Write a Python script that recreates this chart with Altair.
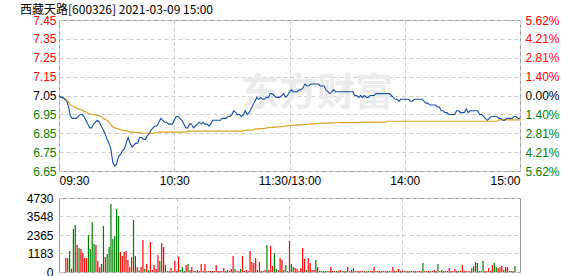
import json
import altair as alt
import pandas as pd

# ---------------- data ----------------
title_text = "西藏天路[600326] 2021-03-09 15:00"
watermark_text = ["东方财富"]
pre_close = 7.05
price_top = 7.446
price_bottom = 6.654
price_step = 0.099
price_tick_values = [7.446, 7.347, 7.248, 7.149, 7.05, 6.951, 6.852, 6.753, 6.654]
pct_tick_labels = ["5.62%", "4.21%", "2.81%", "1.40%", "0.00%", "1.40%", "2.81%", "4.21%", "5.62%"]
time_tick_values = [0, 60, 120, 180, 240]
time_tick_labels = ["09:30", "10:30", "11:30/13:00", "14:00", "15:00"]
time_grid_values = [60, 120, 180]
vol_tick_values = [0, 1183, 2365, 3548, 4730]

price = [
    7.05, 7.04, 7.04, 7.03, 7.02, 6.99, 6.94, 6.93, 6.93, 6.93,
    6.94, 6.95, 6.95, 6.94, 6.92, 6.90, 6.88, 6.88, 6.90, 6.91,
    6.92, 6.91, 6.89, 6.87, 6.85, 6.82, 6.80, 6.77, 6.70, 6.68,
    6.69, 6.73, 6.74, 6.76, 6.77, 6.80, 6.83, 6.80, 6.78, 6.79,
    6.80, 6.80, 6.83, 6.83, 6.82, 6.82, 6.84, 6.85, 6.87, 6.88,
    6.89, 6.89, 6.91, 6.93, 6.92, 6.91, 6.91, 6.90, 6.90, 6.90,
    6.92, 6.94, 6.94, 6.93, 6.92, 6.90, 6.88, 6.88, 6.90, 6.90,
    6.88, 6.89, 6.90, 6.91, 6.90, 6.91, 6.90, 6.90, 6.89, 6.90,
    6.92, 6.92, 6.92, 6.92, 6.92, 6.93, 6.93, 6.93, 6.94, 6.94,
    6.95, 6.97, 6.96, 6.95, 6.95, 6.94, 6.95, 6.97, 6.95, 6.96,
    6.98, 7.00, 7.02, 7.04, 7.03, 7.04, 7.03, 7.03, 7.04, 7.04,
    7.06, 7.06, 7.05, 7.04, 7.04, 7.04, 7.05, 7.06, 7.04, 7.05,
    7.07, 7.08, 7.07, 7.07, 7.07, 7.08, 7.08, 7.09, 7.11, 7.10,
    7.10, 7.11, 7.11, 7.11, 7.11, 7.11, 7.10, 7.10, 7.10, 7.08,
    7.07, 7.06, 7.07, 7.08, 7.07, 7.07, 7.07, 7.07, 7.07, 7.07,
    7.07, 7.07, 7.07, 7.07, 7.05, 7.05, 7.04, 7.05, 7.04, 7.05,
    7.04, 7.04, 7.05, 7.05, 7.05, 7.06, 7.06, 7.06, 7.06, 7.06,
    7.06, 7.06, 7.06, 7.05, 7.04, 7.03, 7.03, 7.02, 7.03, 7.03,
    7.03, 7.03, 7.03, 7.02, 7.02, 7.03, 7.03, 7.03, 7.03, 7.03,
    7.02, 7.01, 7.01, 7.00, 7.00, 7.00, 7.00, 6.99, 6.99, 6.97,
    6.97, 6.96, 6.96, 6.95, 6.95, 6.95, 6.95, 6.97, 6.97, 6.96,
    6.96, 6.96, 6.98, 6.96, 6.97, 6.97, 6.97, 6.97, 6.97, 6.95,
    6.95, 6.94, 6.93, 6.92, 6.93, 6.94, 6.94, 6.94, 6.94, 6.93,
    6.93, 6.92, 6.92, 6.93, 6.93, 6.93, 6.93, 6.94, 6.94, 6.93,
    6.93,
]

avg = [
    7.050, 7.045, 7.036, 7.033, 7.030, 7.012, 7.000, 6.995, 6.991, 6.984,
    6.981, 6.977, 6.974, 6.968, 6.963, 6.958, 6.954, 6.951, 6.949, 6.947,
    6.947, 6.944, 6.940, 6.931, 6.924, 6.921, 6.910, 6.899, 6.885, 6.880,
    6.877, 6.875, 6.871, 6.868, 6.866, 6.864, 6.862, 6.858, 6.858, 6.858,
    6.857, 6.856, 6.855, 6.853, 6.852, 6.852, 6.852, 6.852, 6.852, 6.852,
    6.854, 6.856, 6.858, 6.858, 6.858, 6.858, 6.858, 6.858, 6.858, 6.858,
    6.858, 6.858, 6.858, 6.858, 6.858, 6.858, 6.858, 6.863, 6.863, 6.863,
    6.863, 6.863, 6.863, 6.863, 6.863, 6.863, 6.863, 6.863, 6.863, 6.863,
    6.863, 6.863, 6.863, 6.863, 6.863, 6.863, 6.863, 6.863, 6.863, 6.863,
    6.863, 6.863, 6.863, 6.863, 6.863, 6.863, 6.866, 6.867, 6.867, 6.868,
    6.869, 6.870, 6.874, 6.875, 6.875, 6.876, 6.877, 6.878, 6.880, 6.881,
    6.882, 6.883, 6.884, 6.884, 6.885, 6.886, 6.887, 6.888, 6.890, 6.891,
    6.892, 6.893, 6.894, 6.894, 6.895, 6.896, 6.896, 6.897, 6.898, 6.899,
    6.900, 6.901, 6.901, 6.902, 6.902, 6.903, 6.904, 6.904, 6.905, 6.905,
    6.905, 6.906, 6.906, 6.906, 6.907, 6.907, 6.908, 6.908, 6.908, 6.908,
    6.908, 6.908, 6.908, 6.908, 6.908, 6.908, 6.908, 6.910, 6.910, 6.910,
    6.910, 6.910, 6.910, 6.910, 6.910, 6.910, 6.910, 6.910, 6.910, 6.910,
    6.910, 6.915, 6.915, 6.915, 6.915, 6.915, 6.915, 6.915, 6.915, 6.915,
    6.915, 6.915, 6.915, 6.915, 6.915, 6.915, 6.915, 6.915, 6.915, 6.915,
    6.915, 6.915, 6.915, 6.915, 6.915, 6.915, 6.915, 6.915, 6.915, 6.915,
    6.915, 6.915, 6.915, 6.915, 6.915, 6.915, 6.915, 6.915, 6.915, 6.915,
    6.915, 6.915, 6.915, 6.915, 6.915, 6.915, 6.915, 6.915, 6.915, 6.915,
    6.915, 6.915, 6.915, 6.915, 6.915, 6.915, 6.915, 6.915, 6.915, 6.922,
    6.922, 6.922, 6.922, 6.922, 6.922, 6.922, 6.922, 6.922, 6.922, 6.922,
    6.922,
]

# volume bars for minutes 1..240
volume = [
    895, 895, 1342, 213, 2748, 3003, 1725, 1534, 1470, 1214,
    895, 895, 2364, 1470, 3195, 1789, 1725, 703, 320, 511,
    2939, 958, 1150, 1597, 4345, 2108, 2300, 4026, 3578, 1278,
    1022, 1278, 1342, 767, 320, 958, 3323, 1022, 320, 100,
    320, 2045, 192, 511, 128, 1917, 128, 447, 192, 1086,
    703, 1853, 1597, 447, 64, 64, 256, 64, 703, 64,
    958, 128, 320, 64, 447, 511, 128, 320, 64, 64,
    128, 64, 511, 64, 511, 64, 64, 64, 64, 64,
    447, 64, 64, 64, 256, 64, 128, 64, 192, 1022,
    192, 64, 64, 192, 1022, 64, 128, 64, 1342, 639,
    575, 895, 128, 639, 64, 64, 128, 1725, 128, 1661,
    383, 1214, 192, 128, 895, 767, 128, 447, 64, 1981,
    511, 320, 256, 192, 64, 256, 1534, 831, 128, 895,
    575, 128, 128, 767, 320, 64, 64, 64, 64, 64,
    64, 320, 64, 64, 64, 64, 128, 64, 64, 64,
    320, 64, 128, 256, 64, 64, 64, 64, 64, 64,
    64, 64, 64, 64, 320, 64, 64, 64, 64, 64,
    64, 64, 64, 64, 320, 64, 64, 192, 64, 64,
    64, 64, 64, 64, 64, 64, 64, 64, 64, 64,
    575, 64, 64, 64, 64, 64, 128, 64, 511, 64,
    128, 64, 64, 64, 256, 64, 64, 192, 64, 64,
    64, 447, 64, 64, 64, 64, 256, 383, 639, 575,
    64, 64, 703, 64, 64, 256, 64, 447, 575, 320,
    256, 320, 383, 128, 320, 320, 64, 64, 64, 383,
]
vol_dir = [
    "r", "g", "g", "r", "g", "g", "r", "g", "r", "r",
    "r", "r", "g", "g", "g", "g", "r", "r", "r", "g",
    "g", "r", "g", "g", "g", "g", "g", "g", "g", "r",
    "r", "r", "r", "r", "r", "r", "g", "g", "r", "g",
    "r", "r", "g", "r", "g", "r", "r", "r", "r", "r",
    "g", "r", "r", "g", "g", "r", "r", "g", "r", "r",
    "r", "g", "g", "g", "r", "g", "r", "r", "r", "g",
    "r", "r", "r", "r", "r", "g", "r", "r", "r", "r",
    "r", "r", "r", "r", "r", "r", "g", "r", "r", "r",
    "g", "r", "r", "g", "r", "r", "r", "r", "r", "r",
    "r", "r", "g", "r", "r", "r", "r", "g", "r", "r",
    "r", "g", "g", "r", "r", "r", "g", "g", "r", "r",
    "g", "g", "r", "r", "r", "r", "r", "r", "g", "r",
    "r", "r", "r", "g", "r", "r", "g", "g", "g", "g",
    "r", "r", "r", "r", "g", "r", "r", "g", "r", "g",
    "r", "r", "g", "g", "r", "r", "r", "r", "r", "r",
    "g", "g", "r", "r", "r", "r", "r", "r", "r", "g",
    "r", "r", "g", "r", "r", "r", "r", "r", "r", "r",
    "g", "r", "r", "g", "r", "r", "g", "r", "r", "r",
    "g", "r", "r", "r", "g", "r", "r", "r", "g", "r",
    "g", "r", "r", "r", "r", "r", "r", "r", "r", "g",
    "r", "r", "r", "r", "r", "r", "g", "r", "g", "g",
    "g", "g", "g", "r", "r", "r", "r", "r", "g", "g",
    "r", "r", "r", "g", "r", "r", "r", "r", "r", "g",
]

# ---------------- styling ----------------
RED = "#ff0000"
GREEN = "#008000"
BLACK = "#000000"
BLUE = "#0f4fa8"
ORANGE = "#e0a020"
GRID = "#cccccc"
LABEL_FONT = "Liberation Sans"

price_df = pd.DataFrame({"minute": list(range(len(price))), "price": price, "avg": avg})
vol_df = pd.DataFrame({"minute": list(range(1, len(volume) + 1)), "volume": volume, "dir": vol_dir})
wm_df = pd.DataFrame({"t": watermark_text})

time_expr = "{}[indexof({}, datum.value)]".format(json.dumps(time_tick_labels), json.dumps(time_tick_values))
pct_expr = "{}[round(({} - datum.value) / {})]".format(json.dumps(pct_tick_labels), price_top, price_step)

side_color = {
    "condition": [
        {"test": "datum.value > {}".format(pre_close + 0.01), "value": RED},
        {"test": "datum.value < {}".format(pre_close - 0.01), "value": GREEN},
    ],
    "value": BLACK,
}

x_scale = alt.Scale(domain=[0, 240], nice=False, zero=False)
y_price_scale = alt.Scale(domain=[price_bottom, price_top], nice=False, zero=False)

x_price = alt.X(
    "minute:Q", scale=x_scale,
    axis=alt.Axis(values=time_tick_values, labelExpr=time_expr, labelFlush=True,
                  grid=True, gridDash=[4, 3], gridColor=GRID, ticks=False, domain=False,
                  title=None, labelPadding=4, minExtent=14, maxExtent=14,
                  labelFont=LABEL_FONT, labelFontSize=12, labelColor=BLACK),
)

# faint background watermark
watermark = alt.Chart(wm_df).mark_text(
    font="Noto Sans CJK SC", fontSize=38, fontWeight="bold", color="#ebebeb",
    align="center", baseline="middle",
).encode(text="t:N", x=alt.value(258), y=alt.value(74))

avg_line = alt.Chart(price_df).mark_line(color=ORANGE, strokeWidth=1.2).encode(
    x=x_price,
    y=alt.Y("avg:Q", scale=y_price_scale,
            axis=alt.Axis(orient="right", values=price_tick_values, labelExpr=pct_expr,
                          grid=False, ticks=False, domain=False, title=None,
                          labelPadding=5, minExtent=45, maxExtent=45,
                          labelFont=LABEL_FONT, labelFontSize=12, labelColor=side_color)),
)

price_line = alt.Chart(price_df).mark_line(color=BLUE, strokeWidth=1.1).encode(
    x=x_price,
    y=alt.Y("price:Q", scale=y_price_scale,
            axis=alt.Axis(orient="left", values=price_tick_values, format=".2f",
                          grid=True, gridDash=[4, 3], gridColor=GRID, ticks=False, domain=False,
                          title=None, labelPadding=3, minExtent=40, maxExtent=40,
                          labelFont=LABEL_FONT, labelFontSize=12, labelColor=side_color)),
)

price_chart = alt.layer(watermark, avg_line, price_line).resolve_scale(y="independent").properties(
    width=461, height=151,
    title=alt.TitleParams(text=title_text, anchor="start", font="Noto Sans CJK SC",
                          fontSize=12, fontWeight="normal", color=BLACK, offset=-3, dx=1),
)

vol_chart = alt.Chart(vol_df).mark_bar(width=1.2).encode(
    x=alt.X("minute:Q", scale=x_scale,
            axis=alt.Axis(values=time_grid_values, labels=False, ticks=False, domain=False,
                          grid=True, gridDash=[4, 3], gridColor=GRID, title=None,
                          minExtent=0, maxExtent=0)),
    y=alt.Y("volume:Q", scale=alt.Scale(domain=[0, vol_tick_values[-1]], nice=False),
            axis=alt.Axis(values=vol_tick_values, grid=True, gridDash=[4, 3], gridColor=GRID,
                          ticks=False, domain=False, title=None, labelPadding=6,
                          minExtent=40, maxExtent=40, format="d",
                          labelFont=LABEL_FONT, labelFontSize=12, labelColor=BLACK)),
    color=alt.Color("dir:N", scale=alt.Scale(domain=["r", "g"], range=[RED, GREEN]), legend=None),
).properties(width=461, height=74)

chart = alt.vconcat(price_chart, vol_chart, spacing=4).properties(
    padding={"left": 18, "top": 3, "right": 0, "bottom": 0},
    background="white",
).configure_view(stroke="#999999", strokeWidth=1)

chart.save("out.html", embed_options={"renderer": "svg", "actions": False})
